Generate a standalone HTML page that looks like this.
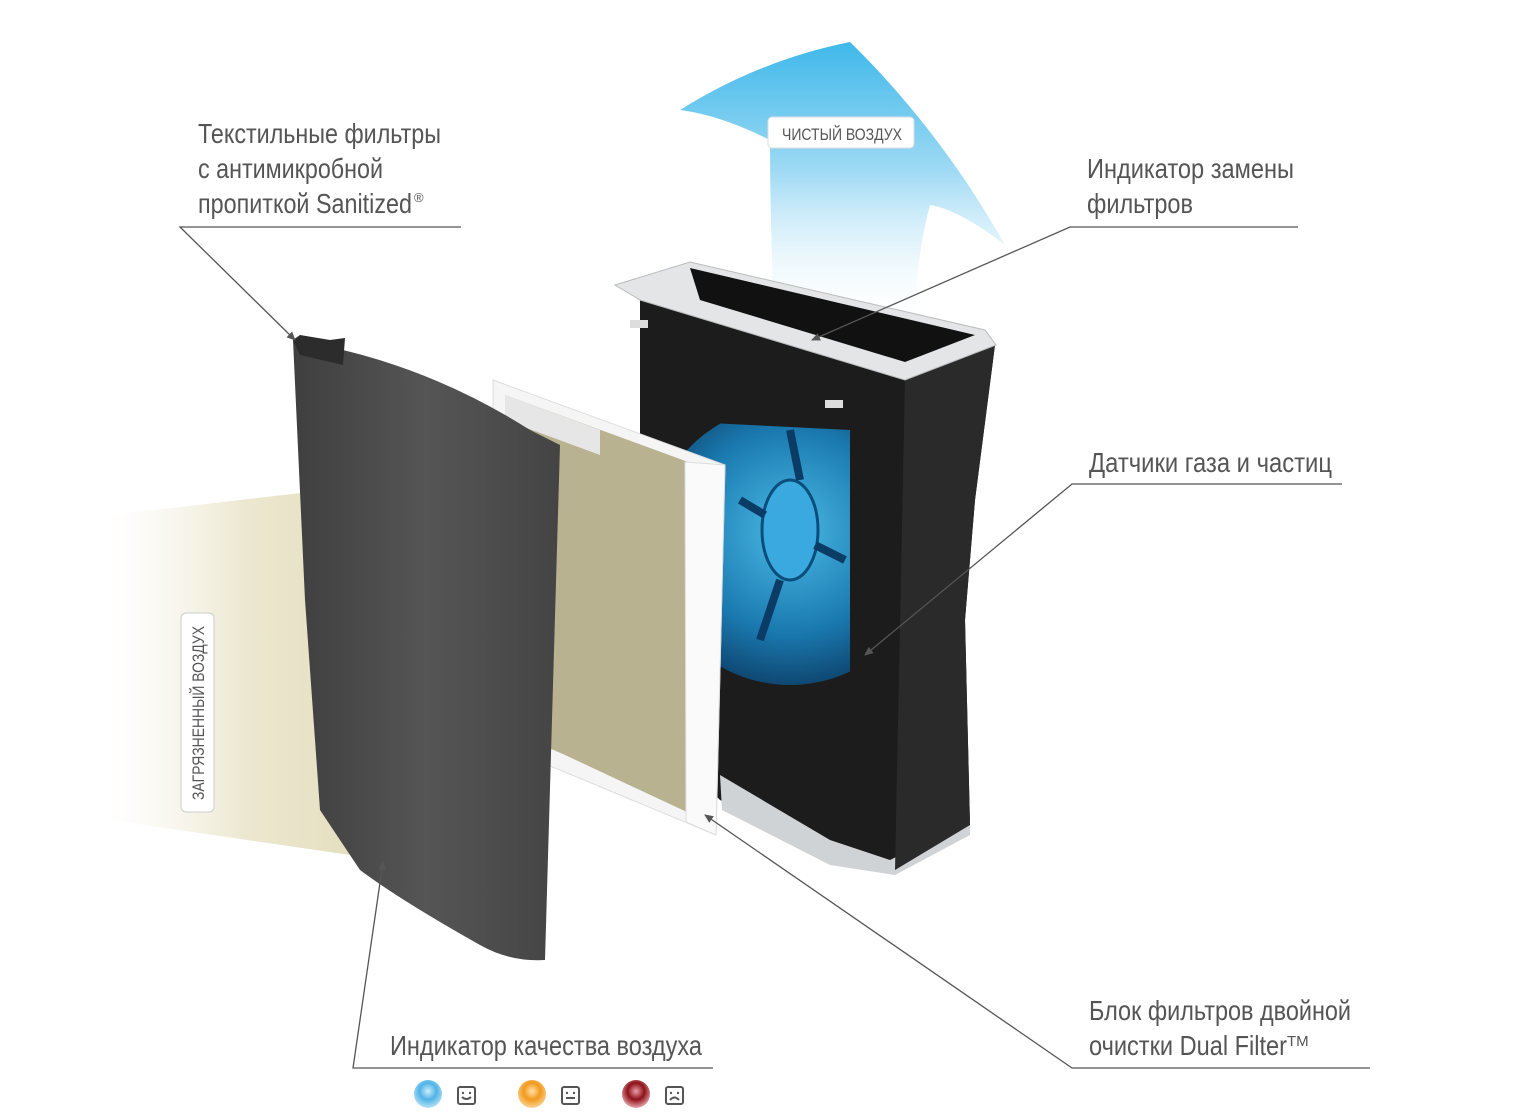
<!DOCTYPE html>
<html><head><meta charset="utf-8"><style>
html,body{margin:0;padding:0;background:#fff;width:1522px;height:1112px;overflow:hidden}
svg{display:block}
text{font-family:"Liberation Sans",sans-serif;fill:#555}
</style></head><body>
<svg width="1522" height="1112" viewBox="0 0 1522 1112" xmlns="http://www.w3.org/2000/svg">
<defs>
<linearGradient id="arrow" x1="0" y1="0" x2="0" y2="1">
<stop offset="0" stop-color="#3fb8ea"/><stop offset="0.45" stop-color="#9fdaf4"/><stop offset="1" stop-color="#ffffff" stop-opacity="0"/>
</linearGradient>
<linearGradient id="beam" x1="0" y1="0" x2="1" y2="0">
<stop offset="0" stop-color="#f4f1e4" stop-opacity="0"/><stop offset="0.5" stop-color="#ece7cf"/><stop offset="1" stop-color="#e3dcbc"/>
</linearGradient>
<radialGradient id="fan" cx="0.5" cy="0.45" r="0.6">
<stop offset="0" stop-color="#4ec3f0"/><stop offset="0.6" stop-color="#1a7fb8"/><stop offset="1" stop-color="#0b3c66"/>
</radialGradient>
<linearGradient id="felt" x1="0" y1="0" x2="1" y2="0">
<stop offset="0" stop-color="#3f3f3f"/><stop offset="0.5" stop-color="#555"/><stop offset="1" stop-color="#444"/>
</linearGradient>
<radialGradient id="b1" cx="0.5" cy="0.4" r="0.6"><stop offset="0" stop-color="#cdeefc"/><stop offset="0.5" stop-color="#4fb3e6"/><stop offset="1" stop-color="#b7e2f6"/></radialGradient>
<radialGradient id="b2" cx="0.5" cy="0.4" r="0.6"><stop offset="0" stop-color="#ffe2a8"/><stop offset="0.5" stop-color="#f29a1c"/><stop offset="1" stop-color="#fbd29a"/></radialGradient>
<radialGradient id="b3" cx="0.5" cy="0.4" r="0.6"><stop offset="0" stop-color="#e6a0a6"/><stop offset="0.5" stop-color="#8e1118"/><stop offset="1" stop-color="#e7a6ad"/></radialGradient>
<clipPath id="win"><path d="M650,420 L850,430 L850,720 L650,700 Z"/></clipPath>
<marker id="ah" markerWidth="10" markerHeight="10" refX="8" refY="5" orient="auto" markerUnits="userSpaceOnUse"><path d="M0,1 L9,5 L0,9 Z" fill="#555"/></marker>
</defs>

<!-- clean air arrow -->
<path d="M680,110 Q760,60 850,42 Q940,130 1005,245 Q960,210 930,205 Q915,260 915,330 L775,330 Q770,230 770,140 Q720,115 680,110 Z" fill="url(#arrow)"/>
<rect x="768" y="117" width="146" height="31" rx="4" fill="#fff" stroke="#ddd"/>
<text x="782" y="140" font-size="17" textLength="120" lengthAdjust="spacingAndGlyphs">ЧИСТЫЙ ВОЗДУХ</text>

<!-- dirty air beam -->
<path d="M110,515 L370,485 L385,860 L110,820 Z" fill="url(#beam)"/>

<!-- purifier body -->
<path d="M640,300 L905,375 L995,345 L975,500 L965,620 L970,825 L890,870 L820,850 L720,800 L640,720 Z" fill="#1c1c1c"/>
<path d="M720,775 L830,840 L890,860 L970,820 L970,835 L895,875 L830,865 L722,810 Z" fill="#cfd3d6"/>
<path d="M905,380 L995,345 L975,500 L965,620 L970,825 L895,870 Z" fill="#2a2a2a"/>
<g clip-path="url(#win)">
<circle cx="790" cy="545" r="140" fill="url(#fan)" opacity="0.95"/>
<ellipse cx="790" cy="530" rx="28" ry="50" fill="#3aa9df" stroke="#0b4e7c" stroke-width="3"/>
<path d="M790,430 L800,480 M740,500 L765,515 M815,545 L845,560 M780,580 L760,640" stroke="#0b3c66" stroke-width="8"/>
</g>
<path d="M615,285 L690,262 L985,330 L996,345 L905,380 L640,300 Z" fill="#e3e5e6" stroke="#bbb"/>
<path d="M690,268 L975,335 L905,362 L700,300 Z" fill="#111"/>
<rect x="630" y="320" width="18" height="8" fill="#ddd"/>
<rect x="825" y="400" width="18" height="8" fill="#ddd"/>

<!-- white filter -->
<path d="M493,380 L725,465 L716,835 L560,770 L495,745 Z" fill="#f5f5f5" stroke="#ddd"/>
<path d="M505,395 L710,470 L704,820 L565,755 L508,730 Z" fill="#b9b291"/>
<path d="M505,395 L600,430 L600,455 L505,420 Z" fill="#e6e6e6"/>
<path d="M685,462 L725,465 L716,835 L686,822 Z" fill="#fafafa" stroke="#ddd"/>

<!-- felt cover -->
<path d="M293,340 Q420,360 530,430 L560,445 L545,960 Q510,962 480,945 Q400,900 360,870 L320,810 L305,600 Z" fill="url(#felt)"/>
<path d="M293,340 L300,335 L330,340 L345,338 L343,365 L300,355 Z" fill="#2c2c2c"/>

<!-- vertical label -->
<rect x="181" y="613" width="33" height="199" rx="5" fill="#fff" stroke="#ccc"/>
<text transform="translate(204,800) rotate(-90)" font-size="17" textLength="174" lengthAdjust="spacingAndGlyphs">ЗАГРЯЗНЕННЫЙ ВОЗДУХ</text>

<!-- leader lines -->
<g stroke="#555" stroke-width="1.3" fill="none">
<polyline points="461,227 180,227 295,340" marker-end="url(#ah)"/>
<polyline points="1298,227 1070,227 812,340" marker-end="url(#ah)"/>
<polyline points="1342,484 1072,484 865,655" marker-end="url(#ah)"/>
<polyline points="1370,1068 1072,1068 705,815" marker-end="url(#ah)"/>
<polyline points="713,1068 353,1068 383,862" marker-end="url(#ah)"/>
</g>

<!-- labels -->
<g font-size="28">
<text x="198" y="143" textLength="243" lengthAdjust="spacingAndGlyphs">Текстильные фильтры</text>
<text x="198" y="178" textLength="185" lengthAdjust="spacingAndGlyphs">с антимикробной</text>
<text x="198" y="213" textLength="214" lengthAdjust="spacingAndGlyphs">пропиткой Sanitized</text>
<text x="414" y="202" font-size="13">®</text>
<text x="1087" y="178" textLength="207" lengthAdjust="spacingAndGlyphs">Индикатор замены</text>
<text x="1087" y="213" textLength="106" lengthAdjust="spacingAndGlyphs">фильтров</text>
<text x="1089" y="472" textLength="243" lengthAdjust="spacingAndGlyphs">Датчики газа и частиц</text>
<text x="1089" y="1020" textLength="262" lengthAdjust="spacingAndGlyphs">Блок фильтров двойной</text>
<text x="1089" y="1055" textLength="198" lengthAdjust="spacingAndGlyphs">очистки Dual Filter</text>
<text x="1287" y="1046" font-size="15">TM</text>
<text x="390" y="1055" textLength="312" lengthAdjust="spacingAndGlyphs">Индикатор качества воздуха</text>
</g>

<!-- indicators -->
<circle cx="428" cy="1094" r="14" fill="url(#b1)"/>
<circle cx="532" cy="1094" r="14" fill="url(#b2)"/>
<circle cx="636" cy="1094" r="14" fill="url(#b3)"/>
<g stroke="#555" stroke-width="2" fill="none">
<rect x="458" y="1087" width="17" height="17" rx="2"/>
<path d="M462,1097 Q466.5,1101 471,1097"/>
<rect x="562" y="1087" width="17" height="17" rx="2"/>
<path d="M566,1098 L575,1098"/>
<rect x="666" y="1087" width="17" height="17" rx="2"/>
<path d="M670,1100 Q674.5,1095 679,1100"/>
</g>
<g fill="#555">
<circle cx="463" cy="1093" r="1.2"/><circle cx="470" cy="1093" r="1.2"/>
<circle cx="567" cy="1093" r="1.2"/><circle cx="574" cy="1093" r="1.2"/>
<circle cx="671" cy="1093" r="1.2"/><circle cx="678" cy="1093" r="1.2"/>
</g>
</svg>
</body></html>
